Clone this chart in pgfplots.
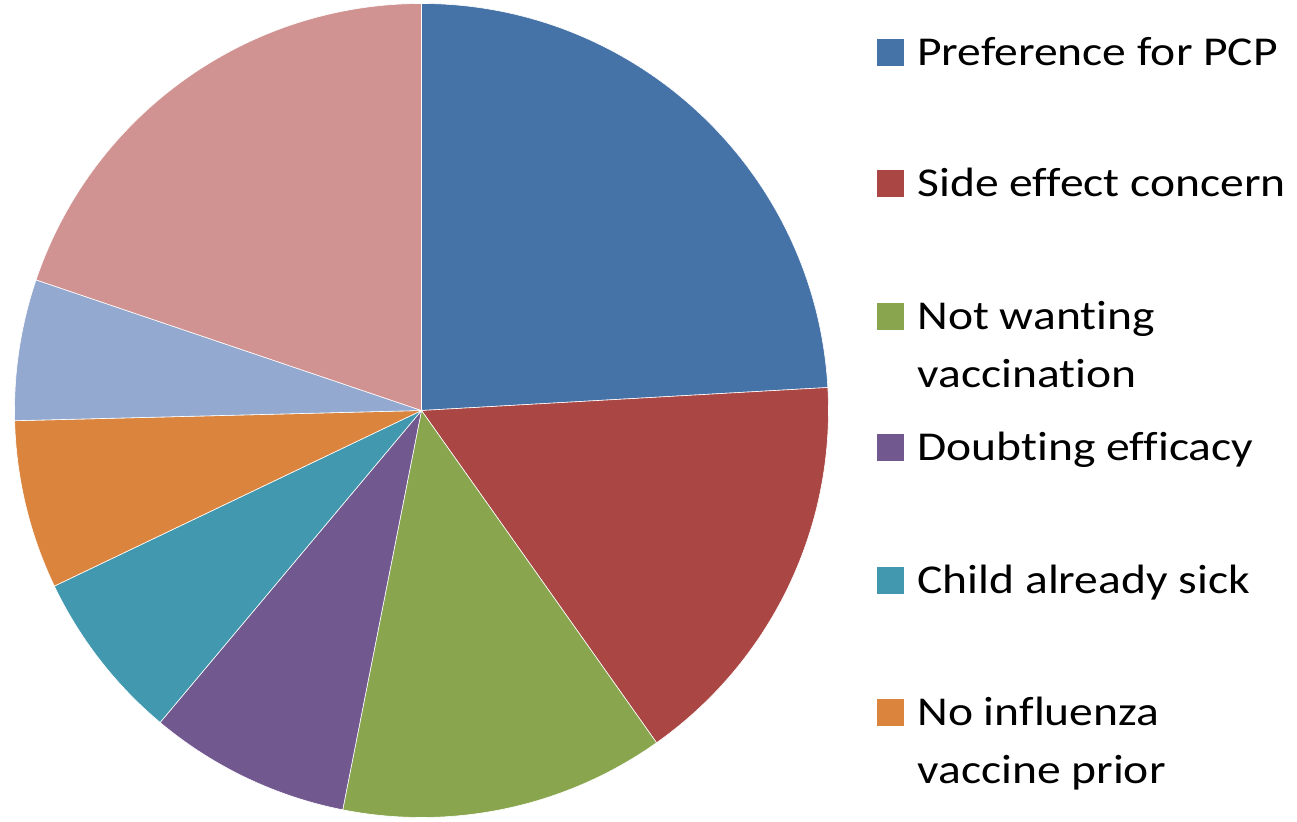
\documentclass[border=0pt]{standalone}
\usepackage{pgfplots}
\pgfplotsset{compat=1.18}
\usepackage{pgfplotstable}
\usepackage{fontspec}
\setmainfont{Carlito}[FakeStretch=1.16, Ligatures={NoCommon}]

% slice colours (Excel 2007 palette)
\definecolor{pie0}{HTML}{4572A7}
\definecolor{pie1}{HTML}{AA4643}
\definecolor{pie2}{HTML}{89A54E}
\definecolor{pie3}{HTML}{71588F}
\definecolor{pie4}{HTML}{4198AF}
\definecolor{pie5}{HTML}{DB843D}
\definecolor{pie6}{HTML}{93A9CF}
\definecolor{pie7}{HTML}{D19392}

% shares in percent, clockwise from 12 o'clock
\pgfplotstableread{
value
24.1
16.1
12.9
8.0
6.8
6.7
5.6
19.8
}\piedata

\begin{document}
\begin{tikzpicture}
\path[use as bounding box] (0,0) rectangle (648.5bp,411bp);
\begin{axis}[
  scale only axis,
  width=648.5bp, height=411bp,
  xmin=0, xmax=1297, ymin=0, ymax=822,
  hide axis, clip=false,
]
% pie: centre and radius in axis units
\def\cx{421.5}\def\cy{411.5}\def\r{407}
\pgfplotstablegetrowsof{\piedata}
\pgfmathtruncatemacro\N{\pgfplotsretval-1}
\gdef\cum{90}
\pgfplotsforeachungrouped \i in {0,...,\N}{%
  \pgfplotstablegetelem{\i}{value}\of\piedata
  \pgfmathsetmacro\sweep{\pgfplotsretval*3.6}
  \pgfmathsetmacro\enda{\cum-\sweep}
  \edef\temp{\noexpand\fill[pie\i, draw=white, line width=0.3pt]
    (axis cs:\cx,\cy) -- (axis cs:{\cx+\r*cos(\cum)},{\cy+\r*sin(\cum)})
    arc[start angle=\cum, end angle=\enda, radius=203.5bp] -- cycle;}%
  \temp
  \global\let\cum\enda
}

% legend
\fill[pie0] (axis cs:877,756) rectangle (axis cs:904,783);
\fill[pie1] (axis cs:877,625) rectangle (axis cs:904,652);
\fill[pie2] (axis cs:877,492) rectangle (axis cs:904,519);
\fill[pie3] (axis cs:877,361) rectangle (axis cs:904,388);
\fill[pie4] (axis cs:877,228) rectangle (axis cs:904,255);
\fill[pie5] (axis cs:877,96) rectangle (axis cs:904,123);
\begin{scope}[every node/.style={anchor=base west, inner sep=0pt,
    font=\fontsize{20.5bp}{29bp}\selectfont}]
\node at (axis cs:917,756) {Preference for PCP};
\node at (axis cs:917,625) {Side effect concern};
\node at (axis cs:917,492) {Not wanting};
\node at (axis cs:917,434) {vaccination};
\node at (axis cs:917,361) {Doubting efficacy};
\node at (axis cs:917,228.5) {Child already sick};
\node at (axis cs:917,96.5) {No influenza};
\node at (axis cs:917,39) {vaccine prior};
\end{scope}
\end{axis}
\end{tikzpicture}
\end{document}
